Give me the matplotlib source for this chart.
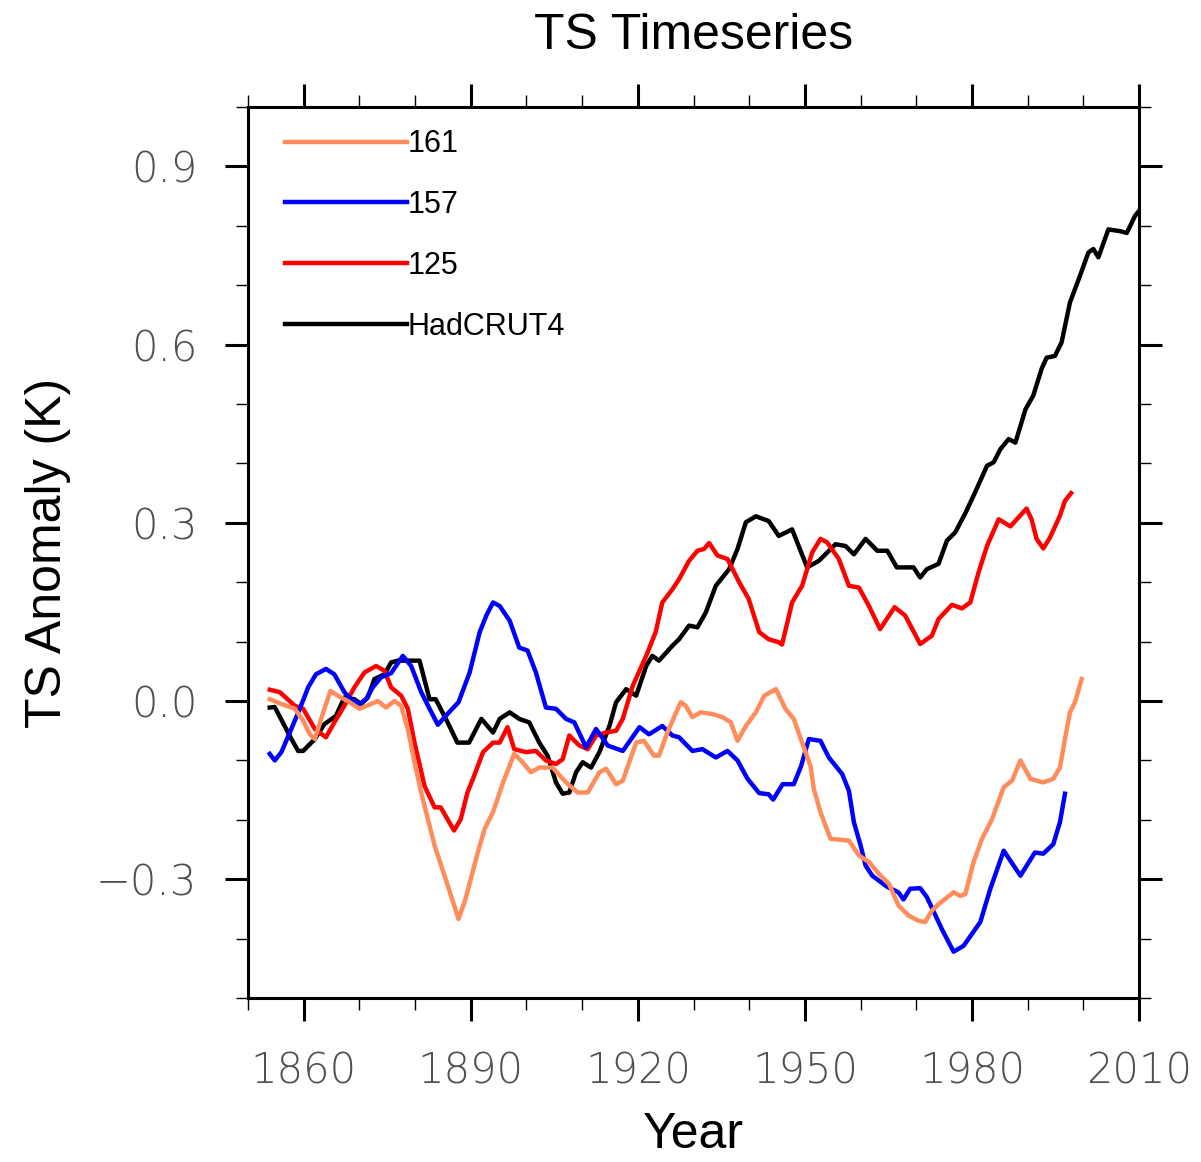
import matplotlib
matplotlib.use("Agg")
import matplotlib.pyplot as plt
from matplotlib.ticker import MultipleLocator, FixedLocator

# ---- data ----
had_years = [1853.9, 1854.8, 1857.8, 1859, 1859.9, 1862, 1863.7, 1865.8, 1867.3, 1869.1,
             1870.3, 1871.5, 1872.7, 1874.5, 1875.7, 1876.9, 1880.8, 1882.6, 1883.7, 1885.8,
             1887.6, 1889.7, 1891.9, 1894, 1895.2, 1897, 1898.7, 1900.5, 1902.3, 1903.8,
             1905.3, 1906.5, 1907.7, 1908.9, 1910.1, 1911.6, 1913.1, 1914.9, 1916.1, 1917.9,
             1919.7, 1921.5, 1922.6, 1923.8, 1926.2, 1927.4, 1929.2, 1930.7, 1932.2, 1934,
             1936.4, 1937.9, 1939.4, 1941.2, 1943.5, 1945.3, 1947.7, 1950.4, 1952.5, 1955.5,
             1957.3, 1958.8, 1960.9, 1963, 1964.8, 1966.5, 1969.5, 1970.7, 1971.9, 1974,
             1975.5, 1977, 1978.8, 1980.6, 1982.7, 1983.9, 1985.1, 1986.6, 1987.8, 1989.6,
             1991, 1992.5, 1993.4, 1994.9, 1996.1, 1997.6, 1999.4, 2000.9, 2001.8, 2002.7,
             2004.5, 2006.6, 2007.8, 2009.3, 2010]
had_vals = [-0.011, -0.010, -0.064, -0.084, -0.084, -0.064, -0.039, -0.025, 0.006, 0.003,
            -0.005, 0.006, 0.037, 0.045, 0.065, 0.068, 0.068, 0.003, 0.003, -0.035,
            -0.070, -0.070, -0.030, -0.053, -0.030, -0.019, -0.030, -0.036, -0.070, -0.092,
            -0.137, -0.156, -0.154, -0.120, -0.103, -0.112, -0.086, -0.042, -0.002, 0.020,
            0.009, 0.059, 0.076, 0.068, 0.093, 0.104, 0.127, 0.124, 0.149, 0.194,
            0.222, 0.256, 0.301, 0.311, 0.303, 0.278, 0.289, 0.225, 0.236, 0.264,
            0.261, 0.247, 0.273, 0.253, 0.253, 0.225, 0.225, 0.208, 0.222, 0.231,
            0.270, 0.284, 0.316, 0.352, 0.396, 0.402, 0.424, 0.441, 0.435, 0.491,
            0.514, 0.559, 0.578, 0.581, 0.604, 0.671, 0.716, 0.755, 0.761, 0.747,
            0.794, 0.791, 0.788, 0.817, 0.825]

r125_years = [1853.9, 1855.7, 1858.4, 1859.9, 1862, 1864, 1865.5, 1867.3, 1869.1, 1870.9,
              1873, 1874.5, 1875.7, 1877.5, 1878.7, 1879.9, 1881.7, 1883.5, 1884.6, 1887,
              1888.2, 1889.4, 1890.4, 1892.2, 1894, 1895.2, 1896.6, 1897.8, 1899.9, 1901.7,
              1903.5, 1905.3, 1906.5, 1907.7, 1909.5, 1911, 1912.5, 1914.3, 1916.1, 1917.3,
              1919.1, 1921.5, 1923.2, 1924.4, 1926.2, 1927.4, 1929.2, 1930.7, 1931.9, 1932.8,
              1934.3, 1936.1, 1938.2, 1939.9, 1941.8, 1943.5, 1945.3, 1945.9, 1947.7, 1949.5,
              1951.3, 1952.8, 1954, 1956.1, 1957.9, 1959.7, 1961.5, 1963.5, 1966.1, 1968,
              1970.7, 1972.8, 1974, 1976.4, 1978.2, 1979.7, 1981.2, 1982.7, 1984.8, 1986.9,
              1989.8, 1990.7, 1991.6, 1992.8, 1994, 1995.8, 1996.7, 1997.8]
r125_vals = [0.019, 0.015, -0.008, -0.013, -0.047, -0.061, -0.036, -0.008, 0.023, 0.048,
             0.059, 0.051, 0.023, 0.009, -0.013, -0.070, -0.143, -0.179, -0.179, -0.218,
             -0.199, -0.154, -0.131, -0.086, -0.070, -0.070, -0.044, -0.081, -0.086, -0.084,
             -0.100, -0.106, -0.098, -0.058, -0.075, -0.081, -0.058, -0.053, -0.050, -0.030,
             0.026, 0.076, 0.116, 0.166, 0.188, 0.205, 0.236, 0.253, 0.256, 0.266,
             0.245, 0.239, 0.200, 0.172, 0.116, 0.104, 0.099, 0.095, 0.166, 0.194,
             0.250, 0.273, 0.267, 0.239, 0.194, 0.191, 0.160, 0.121, 0.158, 0.144,
             0.096, 0.110, 0.138, 0.162, 0.156, 0.166, 0.217, 0.261, 0.306, 0.294,
             0.324, 0.306, 0.273, 0.257, 0.275, 0.312, 0.337, 0.350]

b157_years = [1853.9, 1854.8, 1856, 1857.5, 1859.3, 1860.8, 1862.2, 1864, 1865.5, 1867.3,
              1868.5, 1870, 1871.2, 1872.4, 1873.9, 1875.7, 1877.8, 1879.3, 1881.1, 1882.6,
              1884.1, 1885.5, 1887.8, 1889.8, 1891.6, 1892.8, 1894, 1895.2, 1897, 1898.7,
              1900.2, 1901.7, 1903.5, 1905.3, 1907.1, 1908.6, 1910.7, 1912.5, 1914.6, 1917.3,
              1918.8, 1920.3, 1922, 1924.4, 1926.2, 1927.4, 1929.8, 1931.6, 1934, 1936.1,
              1937.9, 1939.7, 1941.8, 1943.5, 1944.3, 1946, 1948, 1949.3, 1950.7, 1952.8,
              1954.3, 1956.7, 1957.9, 1958.8, 1960, 1960.9, 1962.1, 1964.8, 1966.8, 1967.7,
              1968.9, 1970.7, 1971.9, 1974.6, 1976.7, 1978.5, 1981.5, 1983.3, 1985.7, 1988.7,
              1991.3, 1992.8, 1994.6, 1995.8, 1996.7]
b157_vals = [-0.089, -0.100, -0.086, -0.053, -0.013, 0.023, 0.045, 0.054, 0.045, 0.015,
             0.003, -0.005, 0.003, 0.023, 0.040, 0.047, 0.076, 0.059, 0.015, -0.013,
             -0.040, -0.025, -0.002, 0.048, 0.116, 0.144, 0.166, 0.160, 0.135, 0.090,
             0.085, 0.048, -0.011, -0.013, -0.030, -0.036, -0.078, -0.047, -0.075, -0.084,
             -0.064, -0.044, -0.056, -0.042, -0.058, -0.061, -0.084, -0.081, -0.095, -0.084,
             -0.100, -0.131, -0.155, -0.157, -0.166, -0.140, -0.140, -0.110, -0.064, -0.067,
             -0.095, -0.123, -0.151, -0.204, -0.243, -0.277, -0.294, -0.313, -0.322, -0.334,
             -0.316, -0.315, -0.330, -0.384, -0.422, -0.412, -0.372, -0.316, -0.252, -0.294,
             -0.255, -0.257, -0.241, -0.204, -0.156]

o161_years = [1853.9, 1856, 1858.4, 1859.9, 1861.1, 1862, 1863.4, 1864.8, 1866.1, 1867.9,
              1870, 1872.1, 1873.3, 1874.8, 1876.3, 1877.5, 1878.7, 1879.9, 1881.1, 1882.6,
              1883.5, 1885.5, 1887.8, 1889, 1891.2, 1892.5, 1894, 1895.8, 1897.8, 1899.3,
              1900.8, 1902.3, 1904.7, 1907.1, 1909.2, 1911, 1913.1, 1914.3, 1916.1, 1917.3,
              1919.7, 1921.1, 1922.9, 1923.8, 1925.3, 1927.7, 1928.6, 1929.8, 1931.3, 1933.4,
              1935.2, 1936.7, 1937.9, 1939.4, 1941.2, 1942.7, 1944.8, 1946.5, 1948, 1949.5,
              1951, 1951.6, 1952.8, 1954.6, 1957.9, 1959.7, 1961.5, 1963.3, 1965.1, 1966.8,
              1968.6, 1970.4, 1971.6, 1972.8, 1974, 1976.7, 1977.9, 1978.8, 1980.3, 1981.8,
              1983.6, 1985.7, 1987.2, 1988.7, 1990.5, 1992.8, 1994.6, 1995.8, 1996.7, 1997.6,
              1998.5, 1999.7]
o161_vals = [0.003, -0.005, -0.013, -0.033, -0.056, -0.064, -0.022, 0.017, 0.009, 0.000,
             -0.013, -0.005, 0.000, -0.011, 0.000, -0.008, -0.047, -0.103, -0.154, -0.210,
             -0.243, -0.300, -0.367, -0.335, -0.257, -0.215, -0.187, -0.137, -0.089, -0.103,
             -0.120, -0.112, -0.112, -0.137, -0.154, -0.154, -0.120, -0.114, -0.140, -0.134,
             -0.070, -0.067, -0.092, -0.092, -0.053, -0.002, -0.008, -0.027, -0.019, -0.022,
             -0.027, -0.036, -0.067, -0.042, -0.019, 0.009, 0.020, -0.013, -0.030, -0.070,
             -0.109, -0.148, -0.187, -0.232, -0.235, -0.260, -0.271, -0.291, -0.308, -0.344,
             -0.361, -0.370, -0.372, -0.353, -0.342, -0.322, -0.328, -0.325, -0.271, -0.232,
             -0.199, -0.145, -0.134, -0.100, -0.131, -0.137, -0.131, -0.112, -0.064, -0.019,
             -0.002, 0.037]

x_major = [1860, 1890, 1920, 1950, 1980, 2010]
y_major = [-0.3, 0.0, 0.3, 0.6, 0.9]

LABEL_FONT = ["Liberation Sans", "DejaVu Sans"]


def main():
    fig = plt.figure(figsize=(12.01, 11.62), dpi=100)
    ax = fig.add_axes([0.2065, 0.1411, 0.7419, 0.7668])

    # draw order: observations first, model runs on top
    ax.plot(had_years, had_vals, color="black", lw=3.2, label="HadCRUT4", zorder=3)
    ax.plot(r125_years, r125_vals, color="#FF0000", lw=3.2, label="125", zorder=4)
    ax.plot(b157_years, b157_vals, color="#0000FF", lw=3.2, label="157", zorder=5)
    ax.plot(o161_years, o161_vals, color="#FF8C5A", lw=3.2, label="161", zorder=6)

    ax.set_xlim(1850, 2010)
    ax.set_ylim(-0.5, 1.0)

    ax.xaxis.set_major_locator(FixedLocator(x_major))
    ax.xaxis.set_minor_locator(MultipleLocator(10))
    ax.yaxis.set_major_locator(FixedLocator(y_major))
    ax.yaxis.set_minor_locator(MultipleLocator(0.1))
    ax.set_yticklabels([f"{v:.1f}".replace("-", "\u2212") for v in y_major])

    ax.tick_params(which="both", direction="out", top=True, right=True,
                   labeltop=False, labelright=False)
    ax.tick_params(which="major", length=16.5, width=2.2)
    ax.tick_params(which="minor", length=8.5, width=1.0)
    ax.tick_params(axis="y", which="major", pad=20)
    ax.tick_params(axis="x", which="major", pad=21)
    for lab in ax.get_xticklabels() + ax.get_yticklabels():
        lab.set_fontfamily("DejaVu Sans")
        lab.set_fontweight(200)
        lab.set_fontsize(30)
        lab.set_color("#505050")

    for sp in ax.spines.values():
        sp.set_linewidth(2.2)

    ax.set_title("TS Timeseries", fontsize=36, family=LABEL_FONT, pad=42)
    ax.set_xlabel("Year", fontsize=36, family=LABEL_FONT, labelpad=15)
    ax.set_ylabel("TS Anomaly (K)", fontsize=36, family=LABEL_FONT, labelpad=18)

    handles, labels = ax.get_legend_handles_labels()
    ax.legend(handles[::-1], labels[::-1], loc="upper left",
              bbox_to_anchor=(0.0415, 0.975), borderaxespad=0, borderpad=0,
              frameon=False, handlelength=4.0, handletextpad=0.0,
              labelspacing=1.01, prop={"family": LABEL_FONT, "size": 22})

    fig.savefig("out.png", dpi=100)


if __name__ == "__main__":
    main()
